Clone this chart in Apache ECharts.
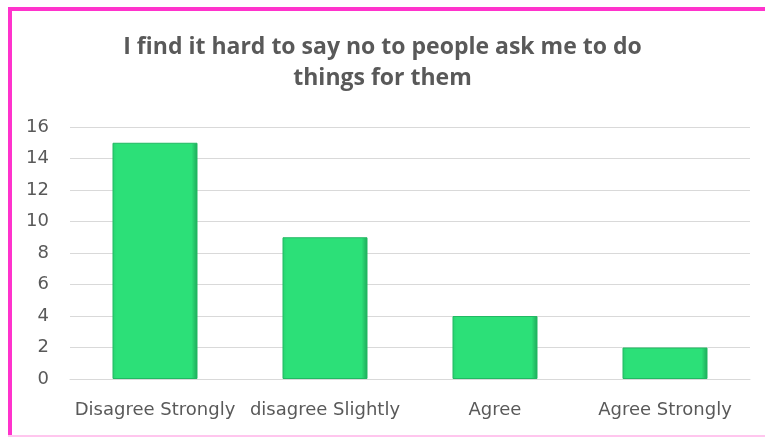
<!DOCTYPE html>
<html>
<head>
<meta charset="utf-8">
<script src="https://cdn.jsdelivr.net/npm/echarts@6/dist/echarts.min.js"></script>
<style>
	html, body { margin: 0; padding: 0; background: #ffffff; }
	#chart { width: 765px; height: 437px; }
</style>
</head>
<body>
<div id="chart"></div>
<script>
//Chart data
let title_lines = ["I find it hard to say no to people ask me to do", "things for them"];
let categories = ["Disagree Strongly", "disagree Slightly", "Agree", "Agree Strongly"];
let response_counts = [15, 9, 4, 2];
let y_axis_range = [0, 16];
let y_axis_step = 2;

//Declare local instance variables
let chart_el = document.getElementById("chart");
let chart = echarts.init(chart_el, null, { renderer: "canvas" });
let text_colour = "#595959";
let label_font = "'DejaVu Sans', sans-serif";

chart.setOption({
	animation: false,
	backgroundColor: "#ffffff",
	title: {
		text: title_lines.join("\n"),
		left: "center",
		top: 27,
		textStyle: {
			color: text_colour,
			fontFamily: "'Open Sans', sans-serif",
			fontWeight: "bold",
			fontSize: 23,
			lineHeight: 31
		}
	},
	graphic: [
		{ type: "rect", shape: { x: 8, y: 7, width: 757, height: 4 }, style: { fill: "#ff33cc" } },
		{ type: "rect", shape: { x: 8, y: 7, width: 4, height: 430 }, style: { fill: "#ff33cc" } },
		{ type: "rect", shape: { x: 8, y: 435, width: 757, height: 2 }, style: { fill: "#ffc6ee" } }
	],
	grid: {
		left: 70,
		right: 15,
		top: 127,
		bottom: 58,
		containLabel: false
	},
	xAxis: {
		type: "category",
		data: categories,
		axisTick: { show: false },
		axisLine: { lineStyle: { color: "#d9d9d9", width: 1 } },
		axisLabel: {
			interval: 0,
			color: text_colour,
			fontFamily: label_font,
			fontSize: 18,
			margin: 22
		}
	},
	yAxis: {
		type: "value",
		min: y_axis_range[0],
		max: y_axis_range[1],
		interval: y_axis_step,
		axisLine: { show: false },
		axisTick: { show: false },
		splitLine: { lineStyle: { color: "#d9d9d9", width: 1 } },
		axisLabel: {
			color: text_colour,
			fontFamily: label_font,
			fontSize: 18,
			margin: 21
		}
	},
	series: [{
		type: "bar",
		data: response_counts,
		barWidth: "50%",
		itemStyle: {
			color: new echarts.graphic.LinearGradient(0, 0, 1, 0, [
				{ offset: 0, color: "#27d470" },
				{ offset: 0.05, color: "#2ce078" },
				{ offset: 0.93, color: "#2ce078" },
				{ offset: 1, color: "#1fa85a" }
			]),
			borderColor: "#22b863",
			borderWidth: 1
		}
	}]
});
</script>
</body>
</html>
